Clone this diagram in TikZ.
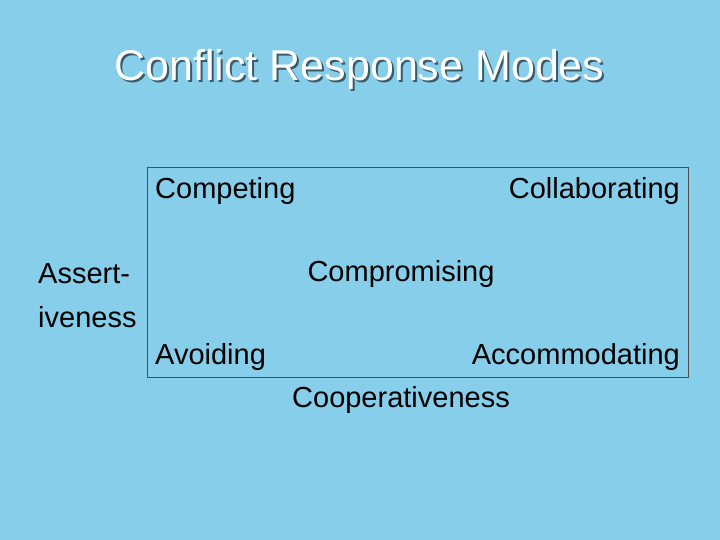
\documentclass[tikz,border=0pt]{standalone}
\usepackage{fontspec}
\setmainfont{Liberation Sans}
\definecolor{bg}{HTML}{87CEEB}
\definecolor{shad}{HTML}{3A5A6A}
\begin{document}
\begin{tikzpicture}[x=1pt,y=-1pt,
  lbl/.style={font=\fontsize{29}{33}\selectfont, inner sep=0pt, text=black}]
\fill[bg] (0,0) rectangle (720,540);
\useasboundingbox (0,0) rectangle (720,540);
\node[font=\fontsize{43}{48}\selectfont, text=shad, inner sep=0pt] (tsh) at (361.5,71.5) {Conflict Response Modes};
\node[font=\fontsize{43}{48}\selectfont, text=white, inner sep=0pt] (title) at (359.5,69.5) {Conflict Response Modes};
\draw[black!70, line width=0.8pt] (147,167) rectangle (688,377);
\node[lbl, anchor=west] (comp) at (155,191) {Competing};
\node[lbl, anchor=east] (coll) at (680,191) {Collaborating};
\node[lbl] (compr) at (401,274) {Compromising};
\node[lbl, anchor=west] (avoid) at (155,357) {Avoiding};
\node[lbl, anchor=east] (acc) at (680,357) {Accommodating};
\node[lbl, align=left, anchor=west, font=\fontsize{29}{44}\selectfont] (ass) at (38,296) {Assert-\\iveness};
\node[lbl] (coop) at (401,400) {Cooperativeness};
\end{tikzpicture}
\end{document}
